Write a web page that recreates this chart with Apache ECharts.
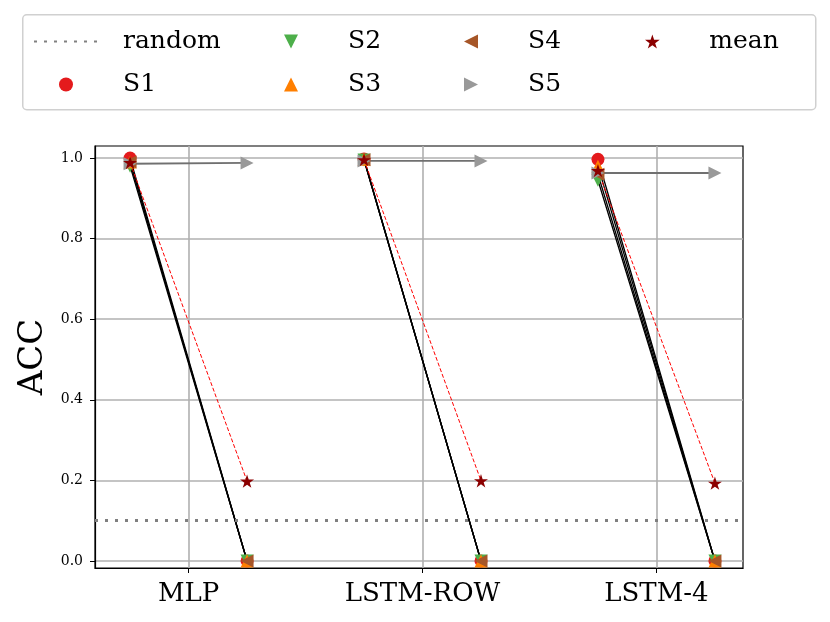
<!DOCTYPE html>
<html>
<head>
<meta charset="utf-8">
<script src="https://cdn.jsdelivr.net/npm/echarts@6/dist/echarts.min.js"></script>
<style>
  html, body { margin: 0; padding: 0; background: #fff; }
  #chart { width: 830px; height: 622px; }
</style>
</head>
<body>
<div id="chart"></div>
<script>
// categories and accuracy before / after for each setting
const categories = ['MLP', 'LSTM-ROW', 'LSTM-4'];
const s1Before = [1.0, 0.998, 0.997];
const s1After = [0.0, 0.0, 0.0];
const s2Before = [0.98, 0.995, 0.945];
const s2After = [0.0, 0.0, 0.0];
const s3Before = [0.99, 0.997, 0.98];
const s3After = [0.0, 0.0, 0.0];
const s4Before = [0.99, 0.996, 0.96];
const s4After = [0.0, 0.0, 0.0];
const s5Before = [0.986, 0.993, 0.963];
const s5After = [0.988, 0.993, 0.963];
const meanBefore = [0.989, 0.996, 0.969];
const meanAfter = [0.198, 0.199, 0.193];
const randomLevel = 0.1;
const yTicks = [0, 0.2, 0.4, 0.6, 0.8, 1.0];
const xTicks = [0, 1, 2];

const OFFSET = 0.25; // before / after shift around each category

const chart = echarts.init(document.getElementById('chart'));

// build broken polyline: one segment per category
function segments(before, after) {
  const out = [];
  categories.forEach((c, i) => {
    out.push([i - OFFSET, before[i]]);
    out.push([i + OFFSET, after[i]]);
    out.push([i + 0.5, '-']);
  });
  return out;
}

const starPath = (() => {
  const pts = [];
  for (let k = 0; k < 10; k++) {
    const r = k % 2 ? 0.382 * 50 : 50;
    const a = (-90 + 36 * k) * Math.PI / 180;
    pts.push((r * Math.cos(a)).toFixed(2) + ',' + (r * Math.sin(a)).toFixed(2));
  }
  return 'path://M' + pts.join('L') + 'Z';
})();

const sym = {
  circle: 'circle',
  down: 'path://M0,0L10,0L5,10Z',
  up: 'path://M5,0L10,10L0,10Z',
  left: 'path://M0,5L10,0L10,10Z',
  right: 'path://M0,0L10,5L0,10Z',
  star: starPath
};

const serif = 'DejaVu Serif';

function markerSeries(name, before, after, color, symbol, lineColor, lineWidth, lineType, size) {
  return {
    name: name,
    type: 'line',
    data: segments(before, after),
    symbol: symbol,
    symbolSize: size || 13,
    symbolKeepAspect: true,
    showSymbol: true,
    connectNulls: false,
    itemStyle: { color: color, borderWidth: 0 },
    lineStyle: { color: lineColor, width: lineWidth, type: lineType },
    emphasis: { disabled: true }
  };
}

const legendBase = {
  orient: 'vertical',
  top: 29,
  padding: 0,
  itemWidth: 64,
  itemHeight: 14,
  itemGap: 18,
  selectedMode: false,
  itemStyle: { borderWidth: 0 },
  textStyle: { fontFamily: serif, fontSize: 25, color: '#000', padding: [0, 0, 0, 20] }
};

const option = {
  animation: false,
  backgroundColor: '#fff',
  graphic: [{
    type: 'rect',
    left: 22, top: 14,
    shape: { width: 793, height: 95, r: 4 },
    style: { fill: '#fff', stroke: '#d0d0d0', lineWidth: 1.5 },
    z: -1
  }],
  legend: [
    Object.assign({}, legendBase, { left: 33, data: [{ name: 'random', itemStyle: { opacity: 0 } }, { name: 'S1', icon: sym.circle }] }),
    Object.assign({}, legendBase, { left: 284, data: [{ name: 'S2', icon: sym.down }, { name: 'S3', icon: sym.up }] }),
    Object.assign({}, legendBase, { left: 464, data: [{ name: 'S4', icon: sym.left }, { name: 'S5', icon: sym.right }] }),
    Object.assign({}, legendBase, { left: 645, data: [{ name: 'mean', icon: sym.star }] })
  ],
  grid: {
    left: 95, right: 87, top: 146, bottom: 54,
    show: true, borderColor: '#000', borderWidth: 1.2, backgroundColor: 'transparent'
  },
  xAxis: {
    type: 'value',
    min: -0.4, max: 2.37,
    axisLine: { show: true, onZero: false, lineStyle: { color: '#000', width: 1.2 } },
    axisTick: { show: true, inside: false, length: 5, customValues: xTicks, lineStyle: { color: '#000' } },
    axisLabel: {
      customValues: xTicks, margin: 13,
      fontFamily: serif, fontSize: 26, color: '#000',
      formatter: v => categories[Math.round(v)] || ''
    },
    splitLine: { show: true, lineStyle: { color: '#b0b0b0', width: 1.6 } }
  },
  yAxis: {
    type: 'value',
    min: -0.0175, max: 1.03,
    name: 'ACC', nameLocation: 'middle', nameGap: 36, nameRotate: 90,
    nameTextStyle: { fontFamily: serif, fontSize: 34, color: '#000' },
    axisLine: { show: true, onZero: false, lineStyle: { color: '#000', width: 1.2 } },
    axisTick: { show: true, inside: false, length: 5, customValues: yTicks, lineStyle: { color: '#000' } },
    axisLabel: {
      customValues: yTicks, margin: 12,
      fontFamily: serif, fontSize: 14, color: '#000',
      formatter: v => v.toFixed(1)
    },
    splitLine: { show: true, lineStyle: { color: '#b0b0b0', width: 1.6 } }
  },
  series: [
    {
      name: 'random',
      type: 'line',
      data: [],
      symbol: 'none',
      itemStyle: { color: '#808080' },
      lineStyle: { color: '#808080', width: 3, type: [3, 7] },
      markLine: {
        silent: true, symbol: 'none', label: { show: false },
        lineStyle: { color: '#808080', width: 3, type: [3, 7] },
        data: [{ yAxis: randomLevel }]
      }
    },
    markerSeries('S1', s1Before, s1After, '#e41a1c', sym.circle, '#000', 1.3, 'solid'),
    markerSeries('S2', s2Before, s2After, '#4daf4a', sym.down, '#000', 1.3, 'solid'),
    markerSeries('S3', s3Before, s3After, '#ff7f00', sym.up, '#000', 1.3, 'solid'),
    markerSeries('S4', s4Before, s4After, '#a65628', sym.left, '#000', 1.3, 'solid'),
    markerSeries('S5', s5Before, s5After, '#999999', sym.right, '#707070', 1.8, 'solid'),
    markerSeries('mean', meanBefore, meanAfter, '#8b0000', sym.star, '#ff0000', 1, [4, 2], 14)
  ]
};

chart.setOption(option);
</script>
</body>
</html>
